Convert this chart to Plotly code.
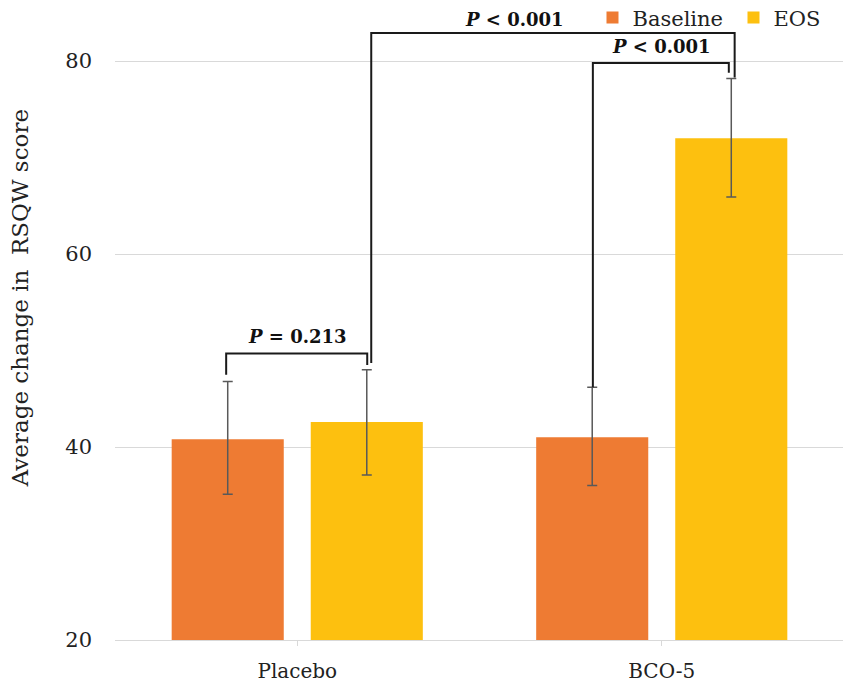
import plotly.graph_objects as go

# values
groups = ["Placebo", "BCO-5"]
baseline = [40.8, 41.0]
baseline_up = [6.0, 5.2]
baseline_down = [5.7, 5.0]
eos = [42.6, 72.0]
eos_up = [5.4, 6.2]
eos_down = [5.5, 6.1]

# significance brackets: (x left, x right, y top, y left foot, y right foot)
brackets = [
    (-0.195, 0.192, 49.7, 47.5, 48.5),
    (0.203, 1.200, 82.9, 48.7, 78.3),
    (0.811, 1.184, 79.8, 46.2, 78.8),
]
p_labels = ["<i>P</i> = 0.213", "<i>P</i> < 0.001", "<i>P</i> < 0.001"]
p_label_x = [0.0, 0.595, 1.0]
p_label_y = [51.5, 84.3, 81.5]

SERIF = "DejaVu Serif"

fig = go.Figure()
fig.add_bar(x=groups, y=baseline, name="Baseline",
            marker=dict(color="#EE7B33", line=dict(width=0)),
            error_y=dict(type="data", symmetric=False, array=baseline_up, arrayminus=baseline_down,
                         color="#595959", thickness=1.5, width=5))
fig.add_bar(x=groups, y=eos, name="EOS",
            marker=dict(color="#FDC00F", line=dict(width=0)),
            error_y=dict(type="data", symmetric=False, array=eos_up, arrayminus=eos_down,
                         color="#595959", thickness=1.5, width=5))

for x0, x1, ytop, yl, yr in brackets:
    fig.add_shape(type="path", xref="x", yref="y",
                  path=f"M {x0},{yl} L {x0},{ytop} L {x1},{ytop} L {x1},{yr}",
                  line=dict(color="#1a1a1a", width=2))

for t, x, y in zip(p_labels, p_label_x, p_label_y):
    fig.add_annotation(x=x, y=y, xref="x", yref="y", text=f"<b>{t}</b>", showarrow=False,
                       font=dict(family=SERIF, size=18, color="#111111"), yanchor="middle")

fig.add_annotation(x=-0.130, y=0.541, xref="paper", yref="paper", textangle=-90,
                   xanchor="center", yanchor="middle",
                   text="Average change in\u00a0 RSQW score", showarrow=False,
                   font=dict(family=SERIF, size=23, color="#222222"))

# page body has an 8px margin, so the figure is 8px smaller than the window
fig.update_layout(
    width=843, height=677, template="plotly_white",
    plot_bgcolor="white", paper_bgcolor="white",
    margin=dict(l=107, r=7, t=0, b=45, autoexpand=False),
    barmode="group", bargap=0.237, bargroupgap=0.194,
    font=dict(family=SERIF, size=20, color="#222222"),
    legend=dict(orientation="h", x=0.655, y=1.0167, xanchor="left", yanchor="top",
                entrywidth=96, font=dict(family=SERIF, size=21, color="#222222"),
                bgcolor="rgba(0,0,0,0)"),
    xaxis=dict(showline=True, linecolor="#D9D9D9", linewidth=1, ticks="outside", ticklen=5,
               tickcolor="#D9D9D9", showgrid=False, ticklabelstandoff=8,
               tickfont=dict(family=SERIF, size=20, color="#222222"), range=[-0.5, 1.5]),
    yaxis=dict(range=[20, 85.5], tickvals=[20, 40, 60, 80], showgrid=True, gridcolor="#D9D9D9",
               zeroline=False, showline=False, ticks="", ticklabelstandoff=22,
               tickfont=dict(family=SERIF, size=21, color="#222222")),
)

fig.write_html("out.html")
